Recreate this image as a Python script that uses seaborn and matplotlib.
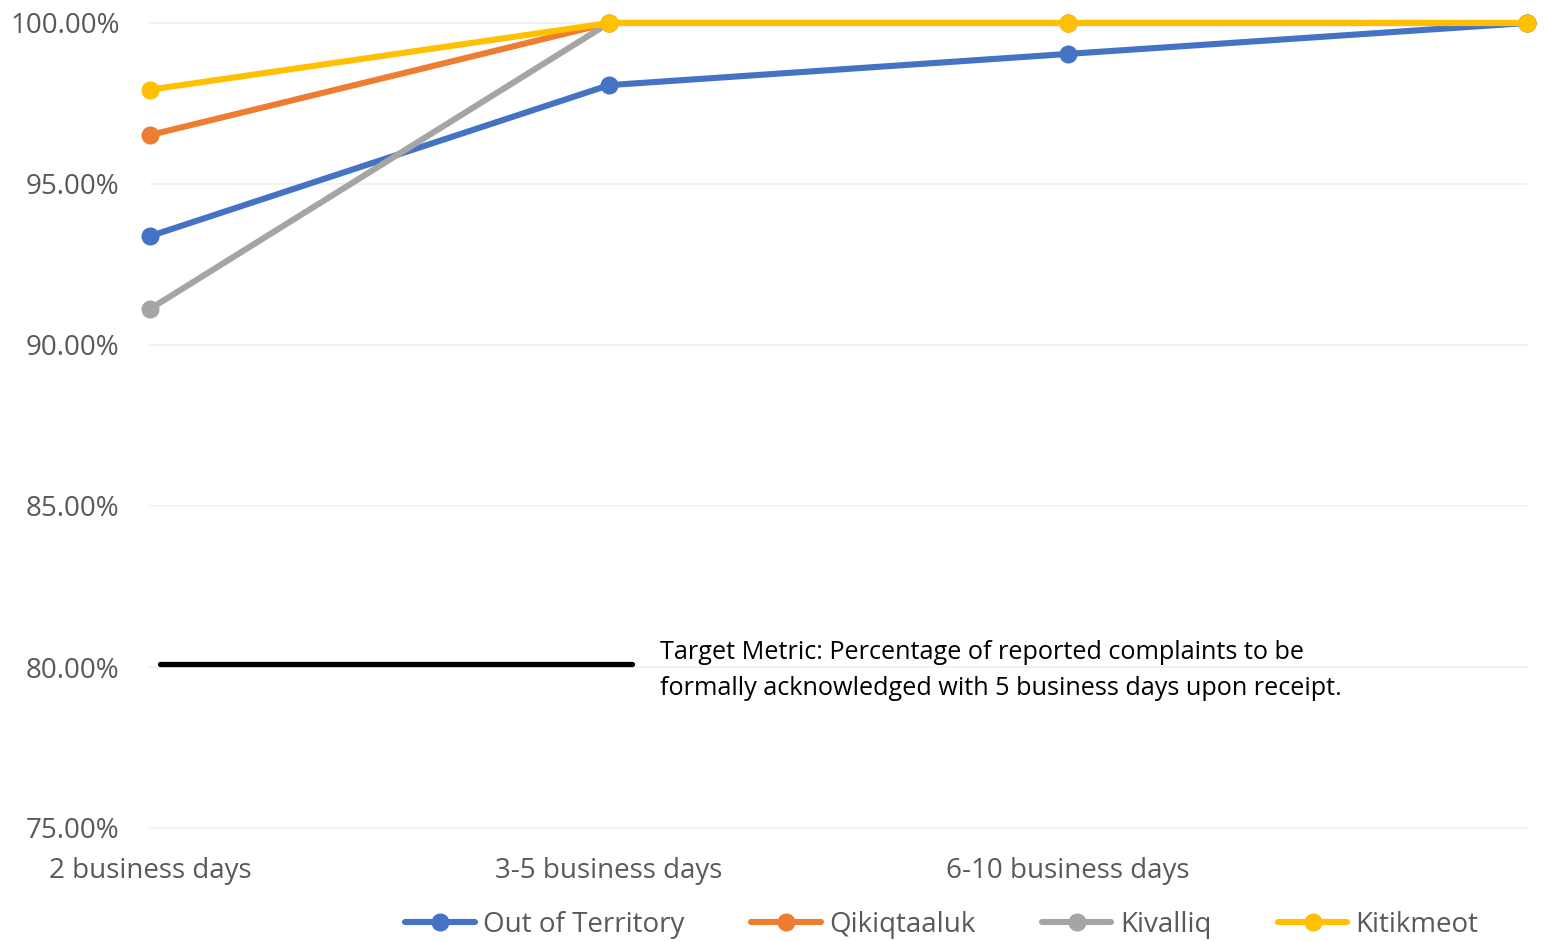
import matplotlib
matplotlib.use("Agg")
import matplotlib.pyplot as plt
import seaborn as sns
import pandas as pd
from matplotlib.ticker import FuncFormatter

categories = ["2 business days", "3-5 business days", "6-10 business days", ""]
series_names = ["Out of Territory", "Qikiqtaaluk", "Kivalliq", "Kitikmeot"]
out_of_territory = [93.38, 98.07, 99.04, 100.0]
qikiqtaaluk = [96.52, 100.0, 100.0, 100.0]
kivalliq = [91.12, 100.0, 100.0, 100.0]
kitikmeot = [97.93, 100.0, 100.0, 100.0]
target_value = 80.0
target_text = ("Target Metric: Percentage of reported complaints to be\n"
               "formally acknowledged with 5 business days upon receipt.")

colors = ["#4472C4", "#ED7D31", "#A5A5A5", "#FFC000"]

rows = []
for name, vals in zip(series_names, [out_of_territory, qikiqtaaluk, kivalliq, kitikmeot]):
    for i, v in enumerate(vals):
        rows.append({"pos": i, "value": v, "series": name})
df = pd.DataFrame(rows)

sns.set_theme(style="white")
plt.rcParams["font.family"] = ["Open Sans", "DejaVu Sans"]

fig = plt.figure(figsize=(15.47, 9.42), dpi=100)
ax = fig.add_axes([150 / 1547, 1 - 828 / 942, (1527 - 150) / 1547, (828 - 23) / 942])

for y in [75, 80, 85, 90, 95, 100]:
    ax.axhline(y, color="#F0F0F0", lw=1.2, zorder=0)

sns.lineplot(data=df, x="pos", y="value", hue="series", hue_order=series_names,
             palette=colors, marker="o", markersize=13, markeredgewidth=0,
             linewidth=4.4, ax=ax, legend=True, zorder=3)
for ln in ax.lines:
    ln.set_clip_on(False)

ax.axhline(target_value + 0.1, xmin=(160 - 150) / 1377, xmax=(632 - 150) / 1377,
           color="black", lw=3.8, zorder=2)
ax.text(1.111, target_value - 0.1, target_text, ha="left", va="center",
        fontsize=18.2, color="black", linespacing=1.6)

ax.set_xlim(0, 3)
ax.set_ylim(75, 100)
ax.set_xticks(range(len(categories)))
ax.set_xticklabels(categories)
ax.set_yticks([75, 80, 85, 90, 95, 100])
ax.yaxis.set_major_formatter(FuncFormatter(lambda v, p: f"{v:.2f}%"))
ax.tick_params(axis="both", colors="#595959", labelsize=20, length=0)
ax.tick_params(axis="x", pad=21)
ax.tick_params(axis="y", pad=22)
ax.set_xlabel("")
ax.set_ylabel("")
for s in ax.spines.values():
    s.set_visible(False)

handles, labels = ax.get_legend_handles_labels()
ax.get_legend().remove()
fig.legend(handles, labels, loc="center", bbox_to_anchor=(942 / 1547, 1 - 925 / 942),
           ncol=4, frameon=False, fontsize=20, labelcolor="#595959",
           handlelength=2.5, columnspacing=2.4, handletextpad=0.3)

fig.savefig("out.png", dpi=100, facecolor="white")
